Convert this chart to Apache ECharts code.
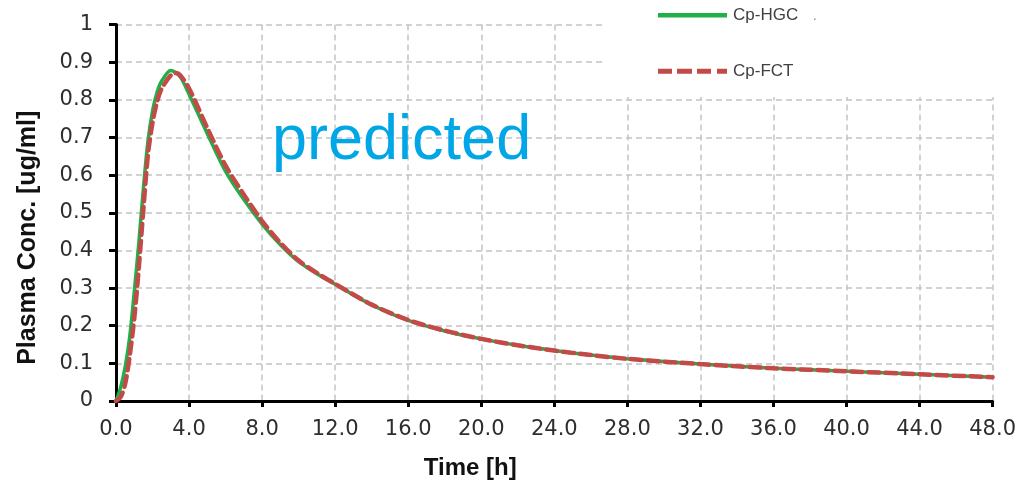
<!DOCTYPE html>
<html>
<head>
<meta charset="utf-8">
<script src="https://cdn.jsdelivr.net/npm/echarts@6/dist/echarts.min.js"></script>
<style>html,body{margin:0;padding:0;background:#fff}#c{width:1019px;height:485px}</style>
</head>
<body>
<div id="c"></div>
<script>
// Time points [h]
const timeHGC = [0, 0.25, 0.5, 0.75, 1, 1.25, 1.5, 1.75, 2, 2.25, 2.5, 3, 3.5, 4, 5, 6, 7, 8, 9, 10, 11, 12, 14, 16, 18, 20, 22, 24, 26, 28, 32, 36, 40, 44, 48];
const cpHGC   = [0, 0.035, 0.09, 0.17, 0.29, 0.42, 0.565, 0.69, 0.77, 0.82, 0.85, 0.878, 0.862, 0.815, 0.71, 0.61, 0.535, 0.47, 0.415, 0.37, 0.338, 0.31, 0.255, 0.214, 0.186, 0.165, 0.148, 0.134, 0.122, 0.112, 0.098, 0.087, 0.079, 0.071, 0.063];
const timeFCT = [0, 0.25, 0.5, 0.75, 1, 1.25, 1.5, 1.75, 2, 2.25, 2.5, 3, 3.25, 3.5, 4, 5, 6, 7, 8, 9, 10, 11, 12, 14, 16, 18, 20, 22, 24, 26, 28, 32, 36, 40, 44, 48];
const cpFCT   = [0, 0.01, 0.045, 0.12, 0.22, 0.355, 0.51, 0.655, 0.74, 0.795, 0.83, 0.865, 0.871, 0.866, 0.83, 0.725, 0.625, 0.548, 0.478, 0.42, 0.373, 0.34, 0.311, 0.256, 0.215, 0.187, 0.165, 0.148, 0.134, 0.122, 0.112, 0.098, 0.087, 0.079, 0.071, 0.063];
const seriesNames = ['Cp-HGC', 'Cp-FCT'];
const xTitle = 'Time [h]';
const yTitle = 'Plasma Conc. [ug/ml]';
const annotation = 'predicted';

const pair = (xs, ys) => xs.map((x, i) => [x, ys[i]]);

// legend icons: tiny corner triangles fix the icon box to 71x18
const boxPts = 'M0,0L0.05,0L0.05,0.05Z M71,18L70.95,18L70.95,17.95Z ';
const solidIcon = 'path://' + boxPts + 'M1,7H70V11.5H1Z';
const dashIcon = 'path://' + boxPts + 'M1,6.8H15V11.7H1Z M20,6.8H35V11.7H20Z M40,6.8H54V11.7H40Z M60,6.8H70V11.7H60Z';

const chart = echarts.init(document.getElementById('c'), null, {renderer: 'canvas'});
const tickFont = {fontFamily: '"DejaVu Sans", sans-serif', fontSize: 21, color: '#2e2e2e'};
const titleFont = {fontFamily: 'Arial, "Liberation Sans", sans-serif', fontWeight: 'bold', color: '#111'};
chart.setOption({
  animation: false,
  backgroundColor: '#fff',
  grid: {left: 116, right: 25, top: 24.5, bottom: 84, containLabel: false},
  xAxis: {
    type: 'value', min: 0, max: 48, interval: 4,
    name: xTitle, nameLocation: 'middle', nameGap: 55,
    nameTextStyle: Object.assign({fontSize: 24, padding: [0, 168, 0, 0]}, titleFont),
    axisLine: {show: true, onZero: false, lineStyle: {color: '#000', width: 3}},
    axisTick: {show: true, length: 6, lineStyle: {color: '#000', width: 3}},
    axisLabel: Object.assign({margin: 18, formatter: v => v.toFixed(1)}, tickFont),
    splitLine: {show: true, lineStyle: {color: '#c4c4c4', width: 1.5, type: [6, 4]}}
  },
  yAxis: {
    type: 'value', min: 0, max: 1, interval: 0.1,
    name: yTitle, nameLocation: 'middle', nameGap: 75,
    nameTextStyle: Object.assign({fontSize: 25, padding: [0, 50, 0, 0]}, titleFont),
    axisLine: {show: true, onZero: false, lineStyle: {color: '#000', width: 3}},
    axisTick: {show: true, length: 7, lineStyle: {color: '#000', width: 3}},
    axisLabel: Object.assign({margin: 23, formatter: v => (Math.round(v * 10) / 10).toString()}, tickFont),
    splitLine: {show: true, lineStyle: {color: '#c4c4c4', width: 1.5, type: [6, 4]}}
  },
  legend: {
    orient: 'vertical', left: 657, top: 6, padding: 0, z: 10,
    itemWidth: 71, itemHeight: 18, itemGap: 38, symbolKeepAspect: false,
    itemStyle: {borderWidth: 0},
    textStyle: {fontFamily: 'Arial, "Liberation Sans", sans-serif', fontSize: 17, lineHeight: 18, color: '#404040'},
    data: [{name: seriesNames[0], icon: solidIcon}, {name: seriesNames[1], icon: dashIcon}]
  },
  graphic: [
    {type: 'rect', z: 3, shape: {x: 604, y: 0, width: 415, height: 97}, style: {fill: '#fff'}},
    {type: 'text', z: 4, left: 272, top: 110, style: {text: annotation, fill: '#00a6e6', font: '63px Arial, "Liberation Sans", sans-serif'}},
    {type: 'text', z: 11, left: 813, top: 10, style: {text: '.', fill: '#777', font: '13px Arial, sans-serif'}}
  ],
  series: [
    {name: seriesNames[0], type: 'line', data: pair(timeHGC, cpHGC), smooth: 0.3, showSymbol: false, symbol: 'none',
     lineStyle: {color: '#1fb04a', width: 3.5}, itemStyle: {color: '#1fb04a', borderWidth: 0}, z: 2},
    {name: seriesNames[1], type: 'line', data: pair(timeFCT, cpFCT), smooth: 0.3, showSymbol: false, symbol: 'none',
     lineStyle: {color: '#c24a47', width: 4.5, type: [11, 6], cap: 'round'}, itemStyle: {color: '#c24a47', borderWidth: 0}, z: 3}
  ]
});
</script>
</body>
</html>
